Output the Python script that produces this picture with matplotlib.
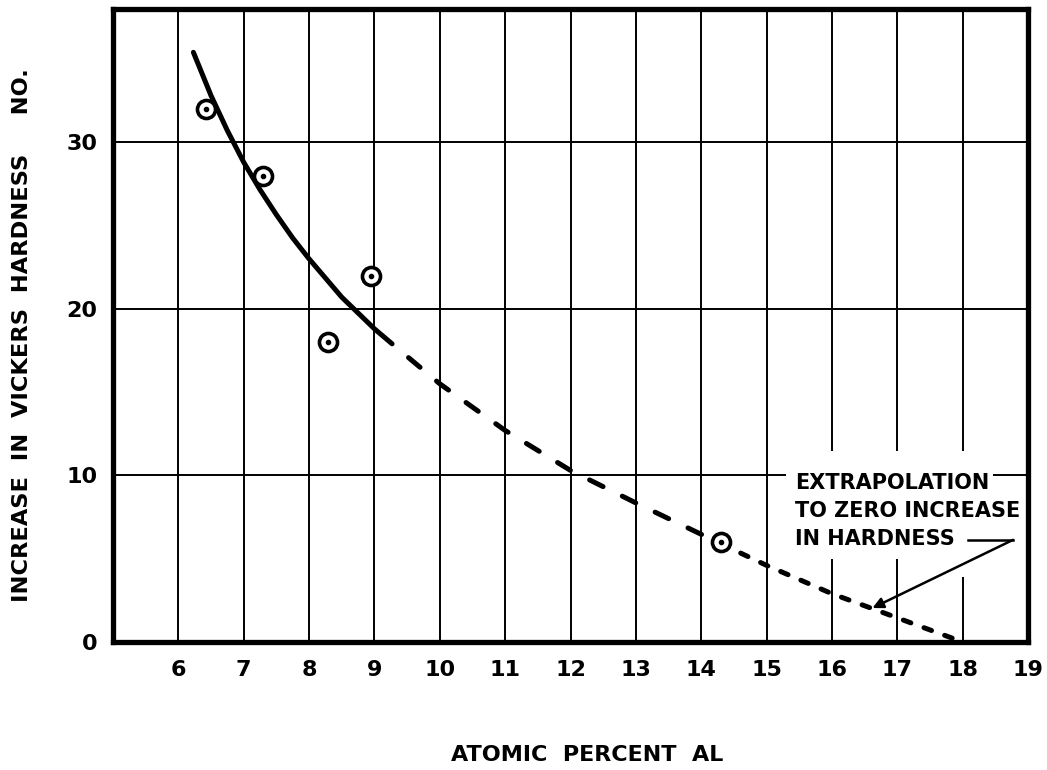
import matplotlib
matplotlib.use("Agg")
import matplotlib.pyplot as plt
from matplotlib.patches import Rectangle

plt.rcParams['font.family'] = ['DejaVu Sans']
plt.rcParams['font.weight'] = 'bold'

# Measured hardness increases
atomic_pct = [6.42, 7.30, 8.29, 8.94, 14.30]
hardness_inc = [32, 28, 18, 22, 6]

# Fitted curve: solid (measured range), long dash, short dash (extrapolation)
curve_solid_x = [6.23, 6.5, 6.75, 7.0, 7.25, 7.5, 7.75, 8.0, 8.5, 9.0, 9.27]
curve_solid_y = [35.4, 32.8, 30.7, 28.8, 27.15, 25.65, 24.25, 23.0, 20.7, 18.8, 17.9]
curve_long_x = [9.27, 10.0, 11.0, 12.0, 13.0, 14.3]
curve_long_y = [17.9, 15.5, 12.7, 10.3, 8.35, 5.9]
curve_short_x = [14.3, 15.0, 16.0, 17.0, 18.0]
curve_short_y = [5.9, 4.6, 2.9, 1.45, 0.0]

x_ticks = list(range(6, 20))
y_ticks = [0, 10, 20, 30]

fig = plt.figure(figsize=(10.47, 7.70), dpi=100)
ax = fig.add_axes([113 / 1047, 1 - 642 / 770, 915 / 1047, 633 / 770])
ax.set_xlim(5, 19)
ax.set_ylim(0, 38)

ax.set_xticks(x_ticks)
ax.set_xticklabels([str(t) for t in x_ticks])
ax.set_yticks(y_ticks)
ax.set_yticklabels([str(t) for t in y_ticks])
ax.tick_params(axis='both', length=0, labelsize=16)
ax.tick_params(axis='x', pad=13)
ax.tick_params(axis='y', pad=11)

ax.grid(True, color='black', linewidth=1.4, zorder=1)
ax.set_axisbelow(True)
for sp in ax.spines.values():
    sp.set_linewidth(3.8)
    sp.set_zorder(6)

# Blank area behind the annotation text
ax.add_patch(Rectangle((15.29, 5.0), 3.17, 6.45, facecolor='white',
                       edgecolor='none', zorder=2))
ax.add_patch(Rectangle((17.9, 3.9), 0.56, 1.2, facecolor='white',
                       edgecolor='none', zorder=2))

lw = 3.6
ax.plot(curve_solid_x, curve_solid_y, color='black', linewidth=lw,
        solid_capstyle='round', solid_joinstyle='round', zorder=4)
ax.plot(curve_long_x, curve_long_y, color='black', linewidth=lw,
        linestyle=(3.0, (3.0, 4.3)), dash_capstyle='round', zorder=4)
ax.plot(curve_short_x, curve_short_y, color='black', linewidth=lw,
        dashes=(1.6, 2.8), dash_capstyle='round', zorder=4)

ax.plot(atomic_pct, hardness_inc, linestyle='none', marker='o', markersize=13,
        markerfacecolor='white', markeredgecolor='black', markeredgewidth=2.6,
        zorder=5)
ax.plot(atomic_pct, hardness_inc, linestyle='none', marker='o', markersize=3,
        color='black', zorder=5)

ax.text(15.44, 10.17, "EXTRAPOLATION\nTO ZERO INCREASE\nIN HARDNESS",
        fontsize=15, fontweight='bold', ha='left', va='top',
        linespacing=1.5, zorder=3)
ax.plot([18.08, 18.77], [6.13, 6.13], color='black', linewidth=1.8, zorder=3)
ax.annotate("", xy=(16.62, 2.04), xytext=(18.77, 6.13),
            arrowprops=dict(arrowstyle='-|>', color='black', linewidth=1.8,
                            mutation_scale=16, shrinkA=0, shrinkB=0),
            zorder=3)

ax.set_xlabel("ATOMIC  PERCENT  AL", fontsize=16, fontweight='bold')
ax.xaxis.set_label_coords(0.518, -0.163)
ax.set_ylabel("INCREASE  IN  VICKERS  HARDNESS     NO.", fontsize=16.2,
              fontweight='bold', va='center')
ax.yaxis.set_label_coords(-0.0995, 0.485)

fig.savefig("out.png", dpi=100)
